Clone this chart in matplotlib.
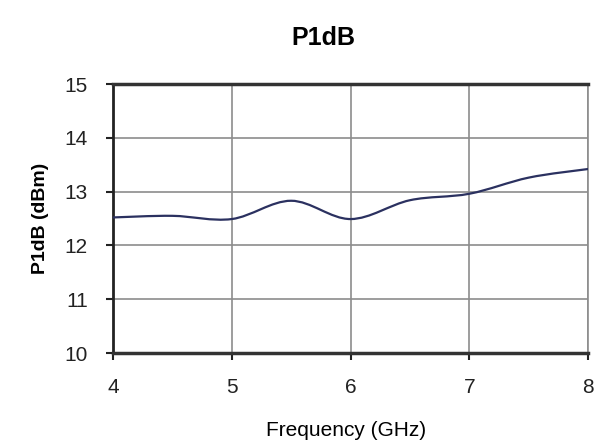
import matplotlib
matplotlib.use("Agg")
from matplotlib import pyplot as plt
from matplotlib.path import Path
from matplotlib.patches import PathPatch

freq = [4.0, 4.5, 5.0, 5.5, 6.0, 6.5, 7.0, 7.5, 8.0]
p1db = [12.52, 12.55, 12.49, 12.83, 12.49, 12.84, 12.96, 13.26, 13.42]
xticks = [4, 5, 6, 7, 8]
yticks = [10, 11, 12, 13, 14, 15]

plt.rcParams["font.family"] = ["Liberation Sans", "DejaVu Sans"]

fig = plt.figure(figsize=(6.13, 4.45), dpi=100)
ax = fig.add_axes([0.1843, 0.2067, 0.775, 0.6045])

# smoothed line like the spreadsheet (Catmull-Rom as cubic Bezier)
n = len(freq)
verts = [(freq[0], p1db[0])]
codes = [Path.MOVETO]
for i in range(n - 1):
    x0, y0 = freq[max(i - 1, 0)], p1db[max(i - 1, 0)]
    x1, y1 = freq[i], p1db[i]
    x2, y2 = freq[i + 1], p1db[i + 1]
    x3, y3 = freq[min(i + 2, n - 1)], p1db[min(i + 2, n - 1)]
    c1 = (x1 + (x2 - x0) / 6, y1 + (y2 - y0) / 6)
    c2 = (x2 - (x3 - x1) / 6, y2 - (y3 - y1) / 6)
    verts += [c1, c2, (x2, y2)]
    codes += [Path.CURVE4] * 3
ax.add_patch(PathPatch(Path(verts, codes), facecolor="none", edgecolor="#2b3160",
                       linewidth=1.6, zorder=3))

ax.set_xlim(4, 8)
ax.set_ylim(10, 15)
ax.set_xticks(xticks)
ax.set_yticks(yticks)
ax.grid(True, color="#8c8c8c", linewidth=1.2)
ax.tick_params(axis="both", labelsize=15, colors="#222222", length=5, width=1.5, direction="out")
ax.tick_params(axis="x", pad=13)
ax.tick_params(axis="y", pad=13)

for side in ["top", "bottom"]:
    ax.spines[side].set_linewidth(2.5)
    ax.spines[side].set_color("#333333")
ax.spines["left"].set_linewidth(2.0)
ax.spines["left"].set_color("#222222")
ax.spines["right"].set_linewidth(1.2)
ax.spines["right"].set_color("#8c8c8c")

fig.text(0.527, 0.915, "P1dB", fontsize=18, fontweight="bold", ha="center", va="center")
fig.text(0.066, 0.51, "P1dB (dBm)", fontsize=14, fontweight="bold", rotation=90,
         ha="center", va="center")
fig.text(0.565, 0.032, "Frequency (GHz)", fontsize=15, ha="center", va="center")

fig.savefig("out.png", dpi=100)
